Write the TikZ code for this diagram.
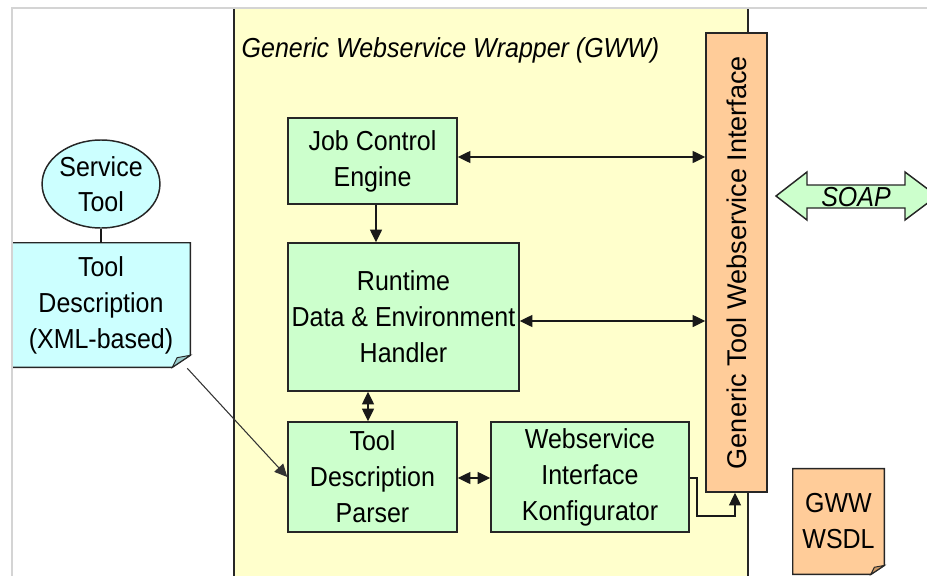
\documentclass[tikz,border=0pt]{standalone}
\usepackage{fontspec}
% slightly condensed face set at a larger size: same widths, taller letters
\setmainfont[FakeStretch=0.91]{Liberation Sans}
\newfontfamily\uprightwide{Liberation Sans}
\usetikzlibrary{arrows.meta,calc,shapes.geometric}

\definecolor{wrapbg}{HTML}{FFFFCC}
\definecolor{blockgreen}{HTML}{CCFFCC}
\definecolor{toolcyan}{HTML}{CCFFFF}
\definecolor{foldcyan}{HTML}{99CCCC}
\definecolor{ifaceorange}{HTML}{FFCC99}
\definecolor{foldorange}{HTML}{CC9966}
\definecolor{soapgreen}{HTML}{CCFFCC}
\definecolor{framegrey}{HTML}{D4D4D4}

\pgfdeclarelayer{back}
\pgfsetlayers{back,main}

% document sheet with a folded lower right corner, drawn behind node #1
\newcommand\foldeddoc[4]{%
  \begin{pgfonlayer}{back}
    \filldraw[draw=black!85, line width=1.1pt, fill=#2]
      (#1.north west) -- (#1.north east) -- ($(#1.south east)+(0,-#4)$)
      -- ($(#1.south east)+(-#4*1.5,0)$) -- (#1.south west) -- cycle;
    \filldraw[draw=black!85, line width=0.7pt, fill=#3]
      ($(#1.south east)+(0,-#4)$) -- ($(#1.south east)+(-#4*1.5,0)$)
      -- ($(#1.south east)+(-#4*1.1,-#4*0.8)$) -- cycle;
  \end{pgfonlayer}}

\begin{document}
\begin{tikzpicture}[x=0.75pt,y=-0.75pt,
  txt/.style={font=\fontsize{20.6}{27}\selectfont, align=center},
  block/.style={txt, draw=black!85, line width=1.1pt, fill=blockgreen, inner sep=0pt},
  sheet/.style={txt, inner sep=0pt},
  tip/.tip={Triangle[length=9.5pt,width=9pt]},
  link/.style={line width=1pt, draw=black!90, -tip},
  duplex/.style={line width=1pt, draw=black!90, tip-tip},
]
\useasboundingbox (0,0) rectangle (927,575);

% wrapper area
\begin{pgfonlayer}{back}
  \fill[wrapbg] (234,9) rectangle (748,580);
  \draw[black!85, line width=1.1pt] (234,9) -- (234,580) (748,9) -- (748,580);
\end{pgfonlayer}

\node[txt, font=\fontsize{20.6}{27}\selectfont\itshape, anchor=base west]
  (title) at (237,57) {Generic Webservice Wrapper (GWW)};

% wrapper components
\node[block, minimum width=126.75pt, minimum height=64.5pt]
  (jce) at (372.5,161) {Job Control\\Engine};
\node[block, minimum width=173.25pt, minimum height=111pt]
  (rt) at (403.5,317) {Runtime\\Data \& Environment\\Handler};
\node[block, minimum width=126.75pt, minimum height=82.5pt]
  (tdp) at (372.5,477) {Tool\\Description\\Parser};
\node[block, minimum width=148.5pt, minimum height=82.5pt]
  (wik) at (590,477) {Webservice\\Interface\\Konfigurator};
\node[block, fill=ifaceorange, minimum width=45.75pt, minimum height=344.25pt,
  font=\fontsize{20.3}{27}\uprightwide]
  (gtwi) at (736.5,262.5) {\rotatebox{90}{Generic Tool Webservice Interface}};

% service tool and its description
\node[txt, ellipse, draw=black!85, line width=1.1pt, fill=toolcyan, inner sep=0pt,
  minimum width=79.5pt, minimum height=66pt, font=\fontsize{20.6}{26}\selectfont]
  (st) at (101,184) {Service\\Tool};
\node[sheet, minimum width=133.5pt, minimum height=93pt]
  (td) at (101,305) {Tool\\Description\\(XML-based)};
\foldeddoc{td}{toolcyan}{foldcyan}{12}

% generated WSDL
\node[sheet, minimum width=68.25pt, minimum height=79pt]
  (wsdl) at (838.5,521.5) {GWW\\WSDL};
\foldeddoc{wsdl}{ifaceorange}{foldorange}{9}

% SOAP double arrow
\begin{pgfonlayer}{back}
  \filldraw[draw=black!85, line width=1.1pt, fill=soapgreen]
    (776,196) -- (807,172) -- (807,185) -- (905,185) -- (905,172) -- (937,196)
    -- (905,220) -- (905,208) -- (807,208) -- (807,220) -- cycle;
\end{pgfonlayer}
\node[txt, font=\fontsize{20.6}{27}\selectfont\itshape] (soap) at (856,197) {SOAP};

% connectors
\draw[line width=1pt, black!90] (st.south) -- (td.north);
\draw[link, line width=0.8pt, black!80] ($(td.south east)+(-3,1)$) -- (tdp.west);
\draw[duplex] (jce.east |- 0,157) -- (gtwi.west |- 0,157);
\draw[link] (jce.south -| 376,0) -- (rt.north -| 376,0);
\draw[duplex] (rt.east |- 0,321) -- (gtwi.west |- 0,321);
\draw[duplex] (tdp.north -| 368,0) -- (rt.south -| 368,0);
\draw[duplex] (tdp.east |- 0,478) -- (wik.west |- 0,478);
\draw[link, line width=0.9pt] (wik.east |- 0,478) -- (697,478) |- (735,516) -- (gtwi.south -| 735,0);

% page frame
\draw[framegrey, line width=1.5pt] (12,580) -- (12,8) -- (935,8);
\end{tikzpicture}
\end{document}
